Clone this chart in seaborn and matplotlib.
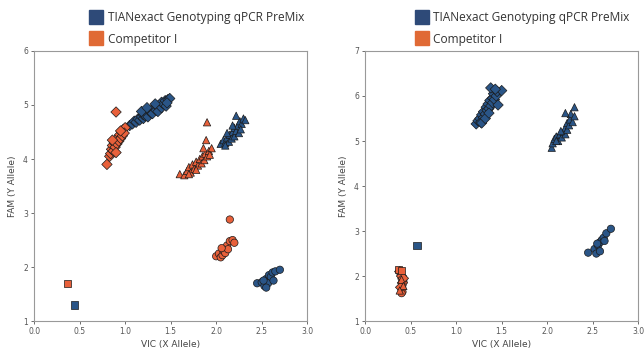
import pandas as pd
import seaborn as sns
import matplotlib.pyplot as plt
from matplotlib.lines import Line2D

KITS = ['TIANexact Genotyping qPCR PreMix', 'Competitor I']

# ---- left panel ----
L_blue_dia_x = [1.05, 1.08, 1.10, 1.12, 1.14, 1.16, 1.18, 1.20, 1.20, 1.22, 1.24, 1.25, 1.26, 1.28, 1.30, 1.30,
                1.32, 1.34, 1.35, 1.36, 1.38, 1.40, 1.40, 1.42, 1.44, 1.45, 1.47, 1.49, 1.46, 1.18, 1.24, 1.33]
L_blue_dia_y = [4.62, 4.65, 4.70, 4.68, 4.74, 4.72, 4.78, 4.75, 4.82, 4.80, 4.85, 4.78, 4.90, 4.86, 4.92, 4.84,
                4.95, 4.90, 4.98, 4.88, 5.00, 4.95, 5.05, 5.02, 5.08, 4.98, 5.10, 5.12, 5.04, 4.88, 4.95, 5.02]
L_org_dia_x = [0.80, 0.83, 0.84, 0.85, 0.86, 0.87, 0.88, 0.89, 0.90, 0.91, 0.92, 0.93, 0.94, 0.95, 0.96, 0.97,
               0.98, 1.00, 0.99, 0.86, 0.90, 0.95, 0.90]
L_org_dia_y = [3.90, 4.05, 4.10, 4.18, 4.25, 4.15, 4.30, 4.22, 4.35, 4.28, 4.40, 4.33, 4.45, 4.38, 4.50, 4.43,
               4.55, 4.58, 4.48, 4.35, 4.12, 4.52, 4.87]
L_org_tri_x = [1.60, 1.65, 1.68, 1.70, 1.72, 1.74, 1.76, 1.78, 1.80, 1.82, 1.84, 1.85, 1.87, 1.88, 1.90, 1.92,
               1.95, 1.89, 1.90, 1.86, 1.70, 1.78, 1.93]
L_org_tri_y = [3.72, 3.70, 3.78, 3.85, 3.75, 3.90, 3.82, 3.95, 3.88, 4.00, 3.92, 4.05, 3.98, 4.10, 4.05, 4.15,
               4.20, 4.35, 4.68, 4.20, 3.72, 3.80, 4.08]
L_blue_tri_x = [2.05, 2.08, 2.10, 2.12, 2.14, 2.15, 2.17, 2.18, 2.20, 2.20, 2.22, 2.24, 2.25, 2.26, 2.28, 2.30,
                2.22, 2.32, 2.18, 2.12, 2.27, 2.10]
L_blue_tri_y = [4.28, 4.35, 4.30, 4.40, 4.32, 4.45, 4.38, 4.50, 4.42, 4.58, 4.52, 4.62, 4.48, 4.70, 4.65, 4.75,
                4.80, 4.72, 4.62, 4.48, 4.55, 4.25]
L_org_cir_x = [2.00, 2.03, 2.05, 2.07, 2.08, 2.10, 2.12, 2.13, 2.15, 2.18, 2.20, 2.06, 2.15]
L_org_cir_y = [2.20, 2.25, 2.18, 2.22, 2.30, 2.26, 2.40, 2.33, 2.48, 2.50, 2.45, 2.35, 2.88]
L_blue_cir_x = [2.45, 2.50, 2.53, 2.55, 2.57, 2.58, 2.60, 2.62, 2.65, 2.70, 2.63, 2.55, 2.52]
L_blue_cir_y = [1.70, 1.72, 1.65, 1.78, 1.70, 1.85, 1.82, 1.90, 1.92, 1.95, 1.75, 1.62, 1.75]
L_org_sq_x, L_org_sq_y = [0.37], [1.70]
L_blue_sq_x, L_blue_sq_y = [0.44], [1.30]

# ---- right panel ----
R_blue_dia_x = [1.22, 1.24, 1.26, 1.27, 1.28, 1.30, 1.30, 1.32, 1.33, 1.34, 1.35, 1.36, 1.37, 1.38, 1.40, 1.40,
                1.41, 1.42, 1.44, 1.45, 1.46, 1.50, 1.38, 1.43, 1.28, 1.32, 1.36]
R_blue_dia_y = [5.38, 5.45, 5.50, 5.42, 5.58, 5.52, 5.65, 5.60, 5.75, 5.68, 5.82, 5.72, 5.90, 5.78, 5.95, 5.85,
                6.05, 5.92, 6.00, 6.10, 5.80, 6.12, 6.18, 6.15, 5.40, 5.50, 5.62]
R_blue_tri_x = [2.05, 2.06, 2.08, 2.10, 2.12, 2.14, 2.16, 2.18, 2.20, 2.20, 2.22, 2.22, 2.24, 2.25, 2.28, 2.26,
                2.30, 2.20, 2.30, 2.15, 2.10]
R_blue_tri_y = [4.85, 4.95, 5.05, 5.10, 5.00, 5.15, 5.08, 5.20, 5.15, 5.30, 5.25, 5.40, 5.35, 5.48, 5.42, 5.60,
                5.55, 5.62, 5.75, 5.22, 5.00]
R_blue_cir_x = [2.45, 2.52, 2.54, 2.56, 2.58, 2.58, 2.60, 2.62, 2.65, 2.70, 2.55, 2.63]
R_blue_cir_y = [2.52, 2.60, 2.50, 2.68, 2.55, 2.75, 2.80, 2.85, 2.95, 3.05, 2.72, 2.78]
R_blue_sq_x, R_blue_sq_y = [0.57], [2.68]
R_org_cir_x = [0.40, 0.41, 0.40, 0.42, 0.39, 0.41, 0.40]
R_org_cir_y = [1.95, 1.80, 1.70, 1.88, 2.05, 1.65, 1.62]
R_org_dia_x = [0.38, 0.40, 0.41, 0.39, 0.42]
R_org_dia_y = [2.10, 2.00, 1.85, 1.75, 1.95]
R_org_tri_x = [0.40, 0.42, 0.38]
R_org_tri_y = [1.92, 1.78, 1.68]
R_org_sq_x = [0.37, 0.40]
R_org_sq_y = [2.15, 2.12]


def frame(groups):
    rows = []
    for xs, ys, kit, geno in groups:
        for x, y in zip(xs, ys):
            rows.append({'x': x, 'y': y, 'kit': kit, 'geno': geno})
    return pd.DataFrame(rows)


left = frame([
    (L_blue_dia_x, L_blue_dia_y, KITS[0], 'dia'), (L_org_dia_x, L_org_dia_y, KITS[1], 'dia'),
    (L_org_tri_x, L_org_tri_y, KITS[1], 'tri'), (L_blue_tri_x, L_blue_tri_y, KITS[0], 'tri'),
    (L_org_cir_x, L_org_cir_y, KITS[1], 'cir'), (L_blue_cir_x, L_blue_cir_y, KITS[0], 'cir'),
    (L_org_sq_x, L_org_sq_y, KITS[1], 'sq'), (L_blue_sq_x, L_blue_sq_y, KITS[0], 'sq'),
])
right = frame([
    (R_blue_dia_x, R_blue_dia_y, KITS[0], 'dia'), (R_blue_tri_x, R_blue_tri_y, KITS[0], 'tri'),
    (R_blue_cir_x, R_blue_cir_y, KITS[0], 'cir'), (R_blue_sq_x, R_blue_sq_y, KITS[0], 'sq'),
    (R_org_cir_x, R_org_cir_y, KITS[1], 'cir'), (R_org_dia_x, R_org_dia_y, KITS[1], 'dia'),
    (R_org_tri_x, R_org_tri_y, KITS[1], 'tri'), (R_org_sq_x, R_org_sq_y, KITS[1], 'sq'),
])

palette = {KITS[0]: '#2a5587', KITS[1]: '#e8603a'}
markers = {'dia': 'D', 'tri': '^', 'cir': 'o', 'sq': 's'}
legend_colors = ['#2e4a78', '#e06a35']

sns.set_style('white')
plt.rcParams['font.family'] = ['DejaVu Sans']

fig = plt.figure(figsize=(6.44, 3.54), dpi=100)
axes = [fig.add_axes([0.053, 0.093, 0.424, 0.763]), fig.add_axes([0.567, 0.093, 0.424, 0.763])]

for ax, df, ylim, legx in [(axes[0], left, (1, 6), 0.150), (axes[1], right, (1, 7), 0.655)]:
    sns.scatterplot(data=df, x='x', y='y', hue='kit', style='geno', palette=palette, markers=markers,
                    s=28, edgecolor='#1a1a1a', linewidth=0.5, legend=False, ax=ax)
    ax.set_xlim(0, 3)
    ax.set_ylim(*ylim)
    ax.set_xticks([0, 0.5, 1.0, 1.5, 2.0, 2.5, 3.0])
    ax.set_xticklabels(['0.0', '0.5', '1.0', '1.5', '2.0', '2.5', '3.0'])
    ax.set_yticks(range(ylim[0], ylim[1] + 1))
    ax.tick_params(axis='both', labelsize=5.5, colors='#555555', length=2.5, width=0.6, direction='out',
                   bottom=True, left=True, pad=2)
    for sp in ax.spines.values():
        sp.set_color('#999999')
        sp.set_linewidth(0.8)
    ax.set_xlabel('VIC (X Allele)', fontsize=6.5, color='#444444', labelpad=3)
    ax.set_ylabel('FAM (Y Allele)', fontsize=6.5, color='#444444', labelpad=4)
    handles = [Line2D([], [], marker='s', linestyle='none', markersize=9.5, markerfacecolor=c,
                      markeredgecolor=c) for c in legend_colors]
    fig.legend(handles, KITS, loc='upper left', bbox_to_anchor=(legx - 0.028, 1.0), frameon=False,
               prop={'family': 'Open Sans', 'size': 8.55}, handletextpad=0.4, labelspacing=0.75,
               handlelength=1.2, labelcolor='#333333')

fig.savefig('out.png', dpi=100)
